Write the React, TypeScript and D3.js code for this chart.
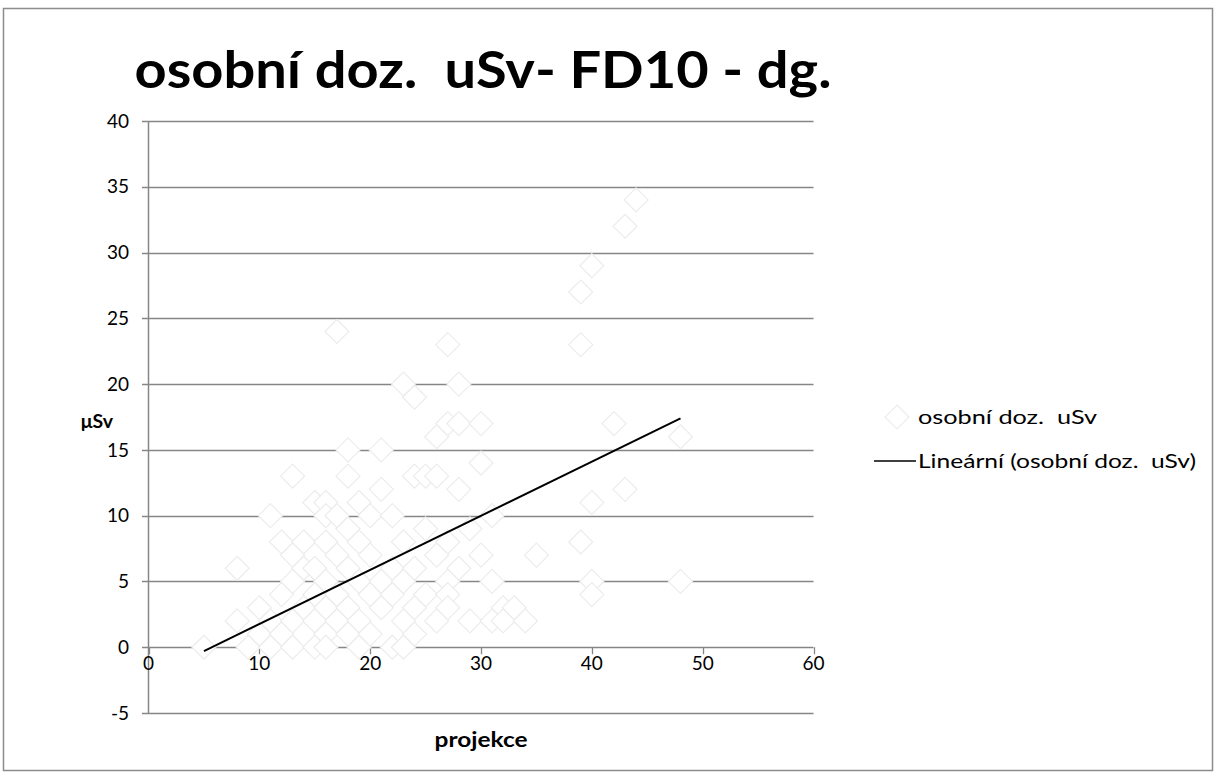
import React from 'react';
import * as d3 from 'd3';

// scatter points: [projekce, µSv]
const points: [number, number][] = [
  [44, 34], [43, 32], [40, 29], [39, 27], [17, 24], [27, 23], [39, 23],
  [23, 20], [28, 20], [24, 19],
  [27, 17], [28, 17], [30, 17], [42, 17], [26, 16], [48, 16],
  [18, 15], [21, 15], [30, 14],
  [13, 13], [18, 13], [24, 13], [25, 13], [26, 13],
  [21, 12], [28, 12], [43, 12],
  [15, 11], [16, 11], [19, 11], [40, 11],
  [11, 10], [16, 10], [17, 10], [20, 10], [22, 10], [31, 10],
  [18, 9], [25, 9], [29, 9],
  [12, 8], [14, 8], [16, 8], [19, 8], [23, 8], [27, 8], [39, 8],
  [13, 7], [17, 7], [20, 7], [26, 7], [30, 7], [35, 7],
  [8, 6], [14, 6], [15, 6], [18, 6], [22, 6], [24, 6], [28, 6],
  [13, 5], [16, 5], [19, 5], [21, 5], [23, 5], [27, 5], [31, 5], [40, 5], [48, 5],
  [12, 4], [15, 4], [17, 4], [20, 4], [22, 4], [25, 4], [27, 4], [40, 4],
  [10, 3], [14, 3], [16, 3], [18, 3], [21, 3], [24, 3], [27, 3], [32, 3], [33, 3],
  [8, 2], [11, 2], [13, 2], [15, 2], [17, 2], [19, 2], [23, 2], [26, 2], [29, 2], [31, 2], [32, 2], [34, 2],
  [10, 1], [12, 1], [16, 1], [18, 1], [20, 1], [24, 1],
  [5, 0], [9, 0], [11, 0], [13, 0], [15, 0], [16, 0], [19, 0], [22, 0], [23, 0],
];

// linear trend endpoints
const trendX = [5, 48];
const trendY = [-0.3, 17.4];

const xTicks = [0, 10, 20, 30, 40, 50, 60];
const yTicks = [-5, 0, 5, 10, 15, 20, 25, 30, 35, 40];

const title = 'osobní doz.  uSv- FD10 - dg.';
const seriesName = 'osobní doz.  uSv';
const trendName = 'Lineární (osobní doz.  uSv)';

const FONT = 'Lato, Calibri, "Open Sans", sans-serif';
const GRID = '#868686';
const MARK = '#ececec';

const diamond = 'M0,-12L12,0L0,12L-12,0Z';

export default function App() {
  const x = d3.scaleLinear().domain([0, 60]).range([148.5, 813.5]);
  const y = d3.scaleLinear().domain([-5, 40]).range([713, 121]);
  const line = d3
    .line<number>()
    .x(d => x(trendX[d]))
    .y(d => y(trendY[d]));

  return (
    <svg
      width={1217}
      height={779}
      style={{ position: 'absolute', left: 0, top: 0, background: '#fff' }}
      fontFamily={FONT}
    >
      <rect x={3.5} y={8.5} width={1209} height={762} fill="#fff" stroke="#8c8c8c" strokeWidth={1.5} />

      <text
        x={483}
        y={88}
        textAnchor="middle"
        fontSize={52}
        fontWeight="bold"
        textLength={697}
        lengthAdjust="spacingAndGlyphs"
        style={{ whiteSpace: 'pre' }}
      >
        {title}
      </text>

      {/* gridlines */}
      {yTicks.map(t => (
        <line key={'g' + t} x1={142} x2={813.5} y1={Math.round(y(t)) + 0.5} y2={Math.round(y(t)) + 0.5} stroke={GRID} strokeWidth={1.3} />
      ))}
      {/* y axis */}
      <line x1={148.5} x2={148.5} y1={121} y2={713} stroke={GRID} strokeWidth={1.5} />
      {/* x axis ticks */}
      {xTicks.map(t => (
        <line key={'xt' + t} x1={Math.round(x(t)) + 0.5} x2={Math.round(x(t)) + 0.5} y1={y(0)} y2={y(0) + 7} stroke={GRID} strokeWidth={1.3} />
      ))}

      {/* tick labels */}
      {yTicks.map(t => (
        <text key={'yl' + t} x={129} y={y(t)} dy="0.35em" textAnchor="end" fontSize={19}>
          {t}
        </text>
      ))}
      {xTicks.map(t => (
        <text key={'xl' + t} x={x(t)} y={y(0) + 16} dy="0.35em" textAnchor="middle" fontSize={19}>
          {t}
        </text>
      ))}

      {/* points */}
      {points.map((p, i) => (
        <path
          key={'p' + i}
          d={diamond}
          transform={`translate(${x(p[0])},${y(p[1])})`}
          fill="#fff"
          stroke={MARK}
          strokeWidth={1.2}
        />
      ))}

      {/* trend */}
      <path d={line([0, 1]) || ''} fill="none" stroke="#000" strokeWidth={2} />

      {/* axis titles */}
      <text x={97} y={421} dy="0.35em" textAnchor="middle" fontSize={19.5} fontWeight="bold">
        μSv
      </text>
      <text x={481} y={740} dy="0.35em" textAnchor="middle" fontSize={20} fontWeight="bold" textLength={93} lengthAdjust="spacingAndGlyphs">
        projekce
      </text>

      {/* legend */}
      <path d={diamond} transform="translate(897,417)" fill="#fff" stroke={MARK} strokeWidth={1.2} />
      <text x={918} y={417} dy="0.35em" fontSize={19.5} textLength={179} lengthAdjust="spacingAndGlyphs" style={{ whiteSpace: 'pre' }}>
        {seriesName}
      </text>
      <line x1={874} x2={916} y1={461} y2={461} stroke="#000" strokeWidth={1.5} />
      <text x={918} y={461} dy="0.35em" fontSize={19.5} textLength={278} lengthAdjust="spacingAndGlyphs" style={{ whiteSpace: 'pre' }}>
        {trendName}
      </text>
    </svg>
  );
}
